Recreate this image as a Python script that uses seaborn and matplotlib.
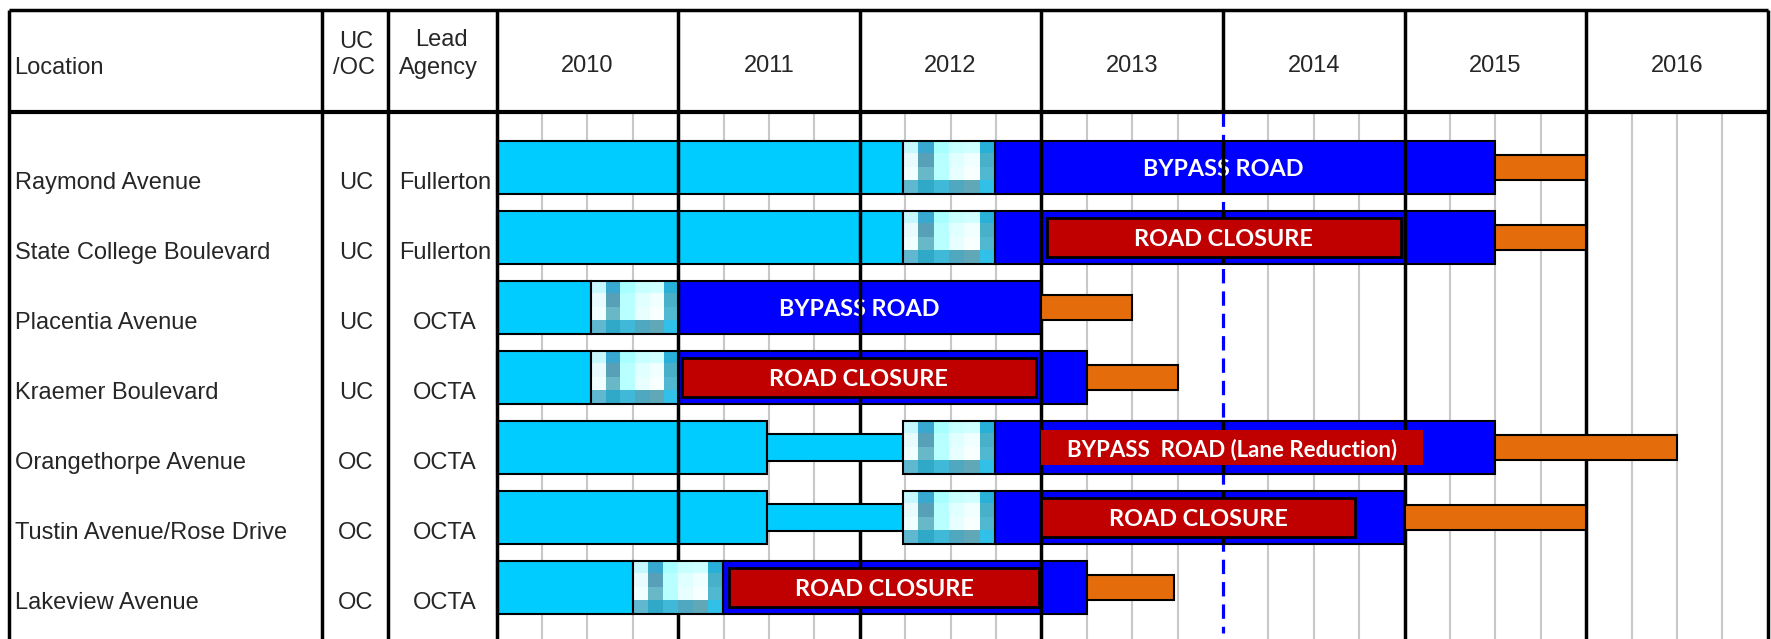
import numpy as np
import matplotlib
matplotlib.use("Agg")
import matplotlib.pyplot as plt
import seaborn as sns

# ---------------- data ----------------
locations = ["Raymond Avenue", "State College Boulevard", "Placentia Avenue",
             "Kraemer Boulevard", "Orangethorpe Avenue", "Tustin Avenue/Rose Drive",
             "Lakeview Avenue"]
uc_oc = ["UC", "UC", "UC", "UC", "OC", "OC", "OC"]
lead_agency = ["Fullerton", "Fullerton", "OCTA", "OCTA", "OCTA", "OCTA", "OCTA"]
years = [2010, 2011, 2012, 2013, 2014, 2015, 2016]

cyan_start = [2010.0, 2010.0, 2010.0, 2010.0, 2010.0, 2010.0, 2010.0]
cyan_end = [2012.24, 2012.24, 2010.52, 2010.52, 2011.49, 2011.49, 2010.75]
narrow_start = [np.nan, np.nan, np.nan, np.nan, 2011.49, 2011.49, np.nan]
narrow_end = [np.nan, np.nan, np.nan, np.nan, 2012.24, 2012.24, np.nan]
pattern_start = [2012.24, 2012.24, 2010.52, 2010.52, 2012.24, 2012.24, 2010.75]
pattern_end = [2012.745, 2012.745, 2011.0, 2011.0, 2012.745, 2012.745, 2011.245]
blue_start = [2012.745, 2012.745, 2011.0, 2011.0, 2012.745, 2012.745, 2011.245]
blue_end = [2015.5, 2015.5, 2013.0, 2013.25, 2015.5, 2015.0, 2013.25]
orange_start = [2015.5, 2015.5, 2013.0, 2013.25, 2015.5, 2015.0, 2013.25]
orange_end = [2016.0, 2016.0, 2013.5, 2013.75, 2016.5, 2016.0, 2013.73]
label_text = ["BYPASS ROAD", "ROAD CLOSURE", "BYPASS ROAD", "ROAD CLOSURE",
              "BYPASS  ROAD (Lane Reduction)", "ROAD CLOSURE", "ROAD CLOSURE"]
label_start = [2013.0, 2013.03, 2011.0, 2011.02, 2013.0, 2013.0, 2011.28]
label_end = [2015.0, 2014.98, 2013.0, 2012.97, 2015.1, 2014.73, 2012.99]
label_box = ["none", "outlined", "none", "outlined", "filled", "outlined", "outlined"]
today = 2014.0

# ---------------- style ----------------
sns.set_theme(style="white")
plt.rcParams["font.family"] = ["Liberation Sans", "DejaVu Sans"]

CYAN = "#00ccff"
BLUE = "#0000ff"
ORANGE = "#e46c0a"
RED = "#c00000"
GRID = "#c8c8c8"

W, H = 1771, 639
PX_YEAR = 181.6
X0 = 496.5
ROW0 = 167.5
ROWP = 70.0


def xd(px):
    return 2010 + (px - X0) / PX_YEAR


def yd(px):
    return (px - ROW0) / ROWP


fig = plt.figure(figsize=(W / 100, H / 100), dpi=100)
ax = fig.add_axes([0, 0, 1, 1])
ax.set_xlim(xd(0), xd(W))
ax.set_ylim(yd(H), yd(0))
ax.axis("off")

rows = np.arange(len(locations))
head_top, head_bot, body_bot = yd(9.5), yd(112.3), yd(H)
right_edge = years[-1] + 1

BAR_H = 0.76
THIN_H = 0.38
OR_H = 0.37

# quarter grid lines
quarters = [y + q for y in years for q in (0.25, 0.5, 0.75)]
ax.vlines(quarters, head_bot, body_bot, color=GRID, lw=1.5, zorder=1)

# today dashed line (under bars)
ax.vlines([today], head_bot, yd(633), color=BLUE, lw=2.3,
          linestyles=[(0, (4.5, 2.5))], zorder=2)

# main bars
ax.barh(rows, np.array(cyan_end) - np.array(cyan_start), left=cyan_start,
        height=BAR_H, color=CYAN, edgecolor="black", linewidth=1.5, zorder=3)
ax.barh(rows, np.array(blue_end) - np.array(blue_start), left=blue_start,
        height=BAR_H, color=BLUE, edgecolor="black", linewidth=1.5, zorder=3)

# bypass texts (white on blue, under year lines)
lato = ["Lato", "DejaVu Sans"]
for r in rows:
    if label_box[r] == "none":
        ax.text((label_start[r] + label_end[r]) / 2, r + 0.03, label_text[r],
                color="white", fontsize=16.8, fontweight="bold", family=lato,
                ha="center", va="center", zorder=3.4)

# year lines
for yv in years[1:] + [right_edge]:
    if yv == today:
        ax.vlines([yv], head_top, head_bot, color="black", lw=2.5, zorder=4)
    else:
        ax.vlines([yv], head_top, body_bot, color="black", lw=2.5, zorder=3.5)
for r in rows:
    if blue_start[r] < today < blue_end[r]:
        ax.vlines([today], r - BAR_H / 2, r + BAR_H / 2, color="black", lw=2.5, zorder=3.5)

# narrow cyan bars
ns = np.array(narrow_start)
ne = np.array(narrow_end)
ok = ~np.isnan(ns)
ax.barh(rows[ok], (ne - ns)[ok], left=ns[ok], height=THIN_H, color=CYAN,
        edgecolor="black", linewidth=1.5, zorder=3.6)

# textured (pixelated) segments
tile_hex = [
    ["#c8f8ff", "#38a8d0", "#a8ffff", "#c8ffff", "#d0ffff", "#28b0d8"],
    ["#e8fcff", "#58a0b8", "#b8ffff", "#e0ffff", "#f0ffff", "#48b0c8"],
    ["#f0ffff", "#68b8c8", "#b8ffff", "#e8ffff", "#f8ffff", "#50b8d0"],
    ["#60b8d0", "#30a8c8", "#40b8d8", "#50a8c0", "#60a8b8", "#30c0e8"],
]
tile = np.array([[matplotlib.colors.to_rgb(c) for c in row] for row in tile_hex])
for r in rows:
    ax.imshow(tile, extent=(pattern_start[r], pattern_end[r], r + BAR_H / 2, r - BAR_H / 2),
              aspect="auto", interpolation="nearest", origin="upper", zorder=3.6)
ax.barh(rows, np.array(pattern_end) - np.array(pattern_start), left=pattern_start,
        height=BAR_H, facecolor="none", edgecolor="black", linewidth=1.5, zorder=3.7)

# orange bars
ax.barh(rows, np.array(orange_end) - np.array(orange_start), left=orange_start,
        height=OR_H, color=ORANGE, edgecolor="black", linewidth=1.5, zorder=3.8)

# red label boxes + texts
for r in rows:
    if label_box[r] == "none":
        continue
    if label_box[r] == "outlined":
        ax.barh([r], [label_end[r] - label_start[r]], left=[label_start[r]], height=0.57,
                color=RED, edgecolor="black", linewidth=2.0, zorder=5)
    else:
        ax.barh([r], [label_end[r] - label_start[r]], left=[label_start[r]], height=0.5,
                color=RED, edgecolor="none", linewidth=0, zorder=5)
    ax.text((label_start[r] + label_end[r]) / 2, r + 0.03, label_text[r],
            color="white", fontsize=16.8 if label_box[r] == "outlined" else 16,
            fontweight="bold", family=lato, ha="center", va="center", zorder=6)

# table structure
col_lines = [xd(9), xd(322), xd(388), years[0]]
ax.vlines(col_lines, head_top, body_bot, color="black", lw=2.5, zorder=4)
ax.hlines([head_top], xd(9), right_edge, color="black", lw=2.5, zorder=4)
ax.hlines([head_bot], xd(9), right_edge, color="black", lw=3.0, zorder=4)

FS = 17
ax.text(xd(14), yd(74), "Location", fontsize=FS, ha="left", va="baseline", zorder=6)
ax.text(xd(356), yd(48), "UC", fontsize=FS, ha="center", va="baseline", zorder=6)
ax.text(xd(354), yd(74.5), "/OC", fontsize=FS, ha="center", va="baseline", zorder=6)
ax.text(xd(441), yd(46), "Lead", fontsize=FS, ha="center", va="baseline", zorder=6)
ax.text(xd(438), yd(74), "Agency", fontsize=FS, ha="center", va="baseline", zorder=6)
for yv in years:
    ax.text(yv + 0.5, yd(71.5), str(yv), fontsize=FS, ha="center", va="baseline", zorder=6)

for r in rows:
    ax.text(xd(15), r + 0.314, locations[r], fontsize=FS, ha="left", va="baseline", zorder=6)
    ax.text(xd(356), r + 0.314, uc_oc[r], fontsize=FS, ha="center", va="baseline", zorder=6)
    ax.text(xd(445), r + 0.314, lead_agency[r], fontsize=FS, ha="center", va="baseline", zorder=6)

fig.savefig("out.png", dpi=100)
